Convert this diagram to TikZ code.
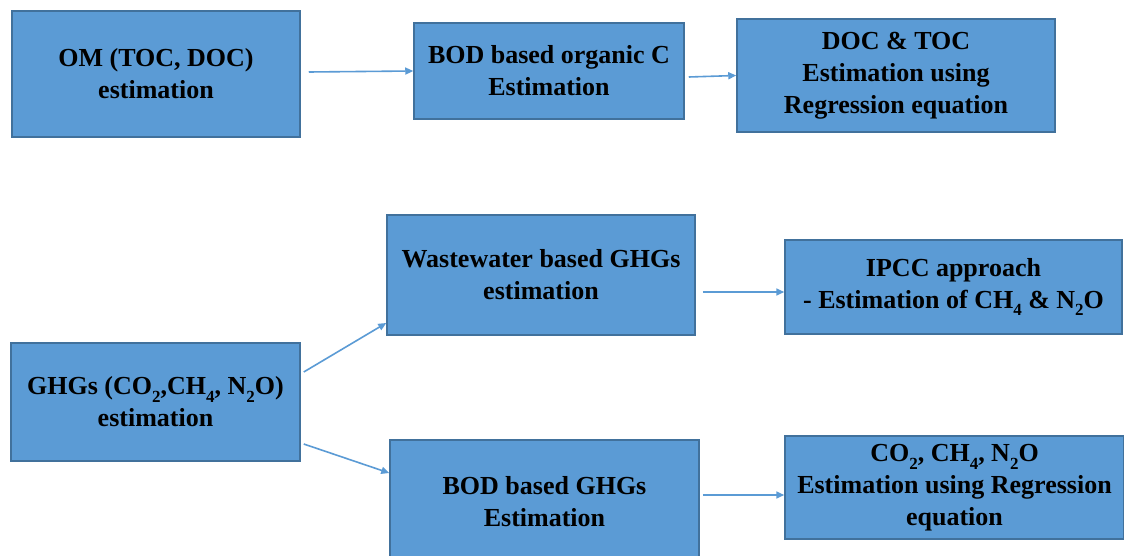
\documentclass[tikz,border=0pt]{standalone}
\usepackage{fontspec}
\setmainfont{Liberation Serif}
\usetikzlibrary{arrows.meta}
\definecolor{boxfill}{HTML}{5B9BD5}
\definecolor{boxline}{HTML}{41719C}
\definecolor{arrowc}{HTML}{5B9BD5}
\newcommand{\mysub}[1]{\raisebox{-0.3em}{\fontsize{17}{17}\selectfont #1}}
\tikzset{
  box/.style={draw=boxline, line width=1.5pt, fill=boxfill, align=center, inner sep=0pt,
    font=\fontsize{26}{32}\selectfont\bfseries},
  conn/.style={draw=arrowc, line width=1.6pt, -{Triangle[length=8pt,width=7pt]}}
}
\begin{document}
\begin{tikzpicture}[x=1pt,y=-1pt]
\useasboundingbox (0,0) rectangle (1124,556);
\fill[white] (0,0) rectangle (1124,556);
\node[box, minimum width=288pt, minimum height=126pt] (om) at (156,74) {OM (TOC, DOC)\\estimation};
\node[box, minimum width=270pt, minimum height=96pt] (bodc) at (549,71) {BOD based organic C\\Estimation};
\node[box, minimum width=318pt, minimum height=113pt] (doc) at (896,75.5) {DOC \& TOC\\Estimation using\\Regression equation};
\node[box, minimum width=308pt, minimum height=120pt] (ww) at (541,275) {Wastewater based GHGs\\estimation};
\node[box, minimum width=337pt, minimum height=94pt] (ipcc) at (953.5,287) {IPCC approach\\- Estimation of CH\mysub{4} \& N\mysub{2}O};
\node[box, minimum width=289pt, minimum height=118pt] (ghg) at (155.5,402) {GHGs (CO\mysub{2},CH\mysub{4}, N\mysub{2}O)\\estimation};
\node[box, minimum width=309pt, minimum height=124pt] (bodg) at (544.5,502) {BOD based GHGs\\Estimation};
\node[box, minimum width=339pt, minimum height=103pt] (co2) at (954.5,487.5) {CO\mysub{2}, CH\mysub{4}, N\mysub{2}O\\Estimation using Regression\\equation};
\draw[conn] ([xshift=8pt,yshift=2pt]om.east) -- (bodc.west);
\draw[conn] ([xshift=4pt,yshift=-6pt]bodc.east) -- (doc.west);
\draw[conn] ([xshift=3pt,yshift=30pt]ghg.east) -- ([yshift=-48pt]ww.west);
\draw[conn] ([xshift=3pt,yshift=-42pt]ghg.east) -- ([yshift=29pt]bodg.west);
\draw[conn] ([xshift=7pt,yshift=-17pt]ww.east) -- ([yshift=-5pt]ipcc.west);
\draw[conn] ([xshift=3pt,yshift=7pt]bodg.east) -- ([yshift=-7.5pt]co2.west);
\end{tikzpicture}
\end{document}
